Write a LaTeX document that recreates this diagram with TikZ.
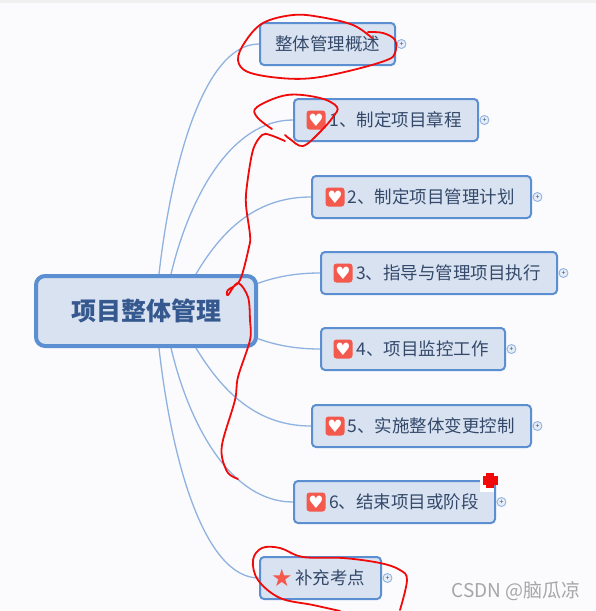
\documentclass[tikz,border=0pt]{standalone}
\usepackage{fontspec}
\usetikzlibrary{backgrounds}
\setmainfont{Noto Sans CJK SC}
\newfontfamily\symfont{DejaVu Sans}
\definecolor{pagebg}{HTML}{FBFBFD}
\definecolor{topband}{HTML}{F0F0F0}
\definecolor{boxfill}{HTML}{D9E2F1}
\definecolor{boxline}{HTML}{5B8FD2}
\definecolor{linkline}{HTML}{8FB2E0}
\definecolor{inktext}{HTML}{34496A}
\definecolor{roottext}{HTML}{35598F}
\definecolor{iconred}{HTML}{F4594E}
\definecolor{penred}{HTML}{F00A0A}
\definecolor{markgray}{HTML}{A6A6A6}
\tikzset{
  rootbox/.style={draw=boxline,fill=boxfill,line width=4pt,rounded corners=9pt,inner sep=0pt,text=roottext,font=\bfseries\fontsize{25}{28}\selectfont},
  topicbox/.style={draw=boxline,fill=boxfill,line width=2pt,rounded corners=4pt,inner sep=0pt,text=inktext,font=\fontsize{17.5}{20}\selectfont},
  link/.style={draw=linkline,line width=1.3pt},
  expander/.style={circle,draw=linkline,fill=boxfill!60!white,line width=0.9pt,minimum size=9pt,inner sep=0pt,text=inktext,font=\fontsize{7}{7}\selectfont,right=0.5pt},
  hearticon/.style={fill=iconred,rounded corners=3pt,minimum size=19pt,inner sep=0pt,text=white,font=\symfont\fontsize{17}{17}\selectfont},
  staricon/.style={inner sep=0pt,text=iconred,font=\symfont\fontsize{24}{24}\selectfont},
  pen/.style={draw=penred,line width=1.8pt,line cap=round,line join=round},
}
\newcommand{\iconroom}{\hspace*{19pt}}
\begin{document}
\begin{tikzpicture}[x=1pt,y=-1pt]
\useasboundingbox (0,0) rectangle (596,611);

% nodes
\node[rootbox,minimum width=220pt,minimum height=70pt] (root) at (146,311) {项目整体管理};
\node[topicbox,minimum width=135pt,minimum height=42pt] (t0) at (327.5,44) {整体管理概述};
\node[topicbox,minimum width=184pt,minimum height=42pt] (t1) at (386,120) {\iconroom 1、制定项目章程};
\node[topicbox,minimum width=219pt,minimum height=42pt] (t2) at (421.5,197) {\iconroom 2、制定项目管理计划};
\node[topicbox,minimum width=236pt,minimum height=42pt] (t3) at (439,273) {\iconroom 3、指导与管理项目执行};
\node[topicbox,minimum width=184pt,minimum height=42pt] (t4) at (413,349) {\iconroom 4、项目监控工作};
\node[topicbox,minimum width=219pt,minimum height=42pt] (t5) at (421.5,426) {\iconroom 5、实施整体变更控制};
\node[topicbox,minimum width=201pt,minimum height=42pt] (t6) at (394.5,502) {\iconroom 6、结束项目或阶段};
\node[topicbox,minimum width=121pt,minimum height=42pt] (t7) at (320.5,578) {\iconroom 补充考点};

% connector starts on the root box (screen y runs down; yshift in pt runs up)
\coordinate (r0) at ([xshift=125pt]root.north west);
\coordinate (r1) at ([xshift=137pt]root.north west);
\coordinate (r2) at ([xshift=162pt]root.north west);
\coordinate (r3) at ([xshift=-2pt,yshift=-10pt]root.north east);
\coordinate (r4) at ([xshift=-2pt,yshift=10pt]root.south east);
\coordinate (r5) at ([xshift=162pt]root.south west);
\coordinate (r6) at ([xshift=137pt]root.south west);
\coordinate (r7) at ([xshift=125pt]root.south west);

\begin{pgfonlayer}{background}
\fill[pagebg] (0,0) rectangle (596,611);
\fill[topband] (0,0) rectangle (596,3);
\draw[link] (r0) .. controls (172,160) and (205,44) .. (t0.west);
\draw[link] (r1) .. controls (190,195) and (232,120) .. (t1.west);
\draw[link] (r2) .. controls (225,225) and (260,197) .. (t2.west);
\draw[link] (r3) .. controls (275,277) and (295,273) .. (t3.west);
\draw[link] (r4) .. controls (275,345) and (295,349) .. (t4.west);
\draw[link] (r5) .. controls (225,396) and (260,426) .. (t5.west);
\draw[link] (r6) .. controls (190,428) and (232,502) .. (t6.west);
\draw[link] (r7) .. controls (172,464) and (205,578) .. (t7.west);
\end{pgfonlayer}

% icons
\node[hearticon] (h1) at (316,120) {♥};
\node[hearticon] (h2) at (335,197) {♥};
\node[hearticon] (h3) at (343,273) {♥};
\node[hearticon] (h4) at (343,349) {♥};
\node[hearticon] (h5) at (335,426) {♥};
\node[hearticon] (h6) at (316,502) {♥};
\node[staricon] (s7) at (282,578) {★};

% expanders
\foreach \b in {t0,t1,t2,t3,t4,t5,t6,t7}
  \node[expander] (x\b) at (\b.east) {+};

% red pen marks
\fill[white] (480,476) rectangle (494,492);
\fill[penred] (486,473) rectangle (494,488);
\fill[penred] (483,476) rectangle (498,485);
\draw[pen] plot[smooth,tension=0.6] coordinates {(372,38) (353,25) (320,17) (293,15) (263,23) (245,42) (238,60) (248,72) (280,78) (313,78) (353,70) (387,60) (395,53) (395,40) (383,33) (368,32)};
\draw[pen] plot[smooth,tension=0.6] coordinates {(272,129) (257,117) (257,107) (287,95) (320,98) (337,107) (333,117) (320,132) (303,146) (290,139) (285,135)};
\draw[pen] plot[smooth,tension=0.55] coordinates {(285,141) (270,135) (262,135) (253,150) (247,185) (246,205) (250,235) (249,247) (240,280) (228,290) (228,295) (238,283) (248,297) (250,320) (250,340) (238,377) (235,400) (223,440) (222,457) (228,473) (238,479)};
\draw[pen] plot[smooth,tension=0.6] coordinates {(400,610) (407,580) (400,570) (380,563) (343,558) (303,557) (280,548) (262,548) (253,560) (258,580) (280,598) (313,605) (340,611)};

% watermark
\node[anchor=east,inner sep=0pt,text=markgray,font=\fontsize{19}{22}\selectfont] (wm) at (581,591) {CSDN @脑瓜凉};
\end{tikzpicture}
\end{document}
